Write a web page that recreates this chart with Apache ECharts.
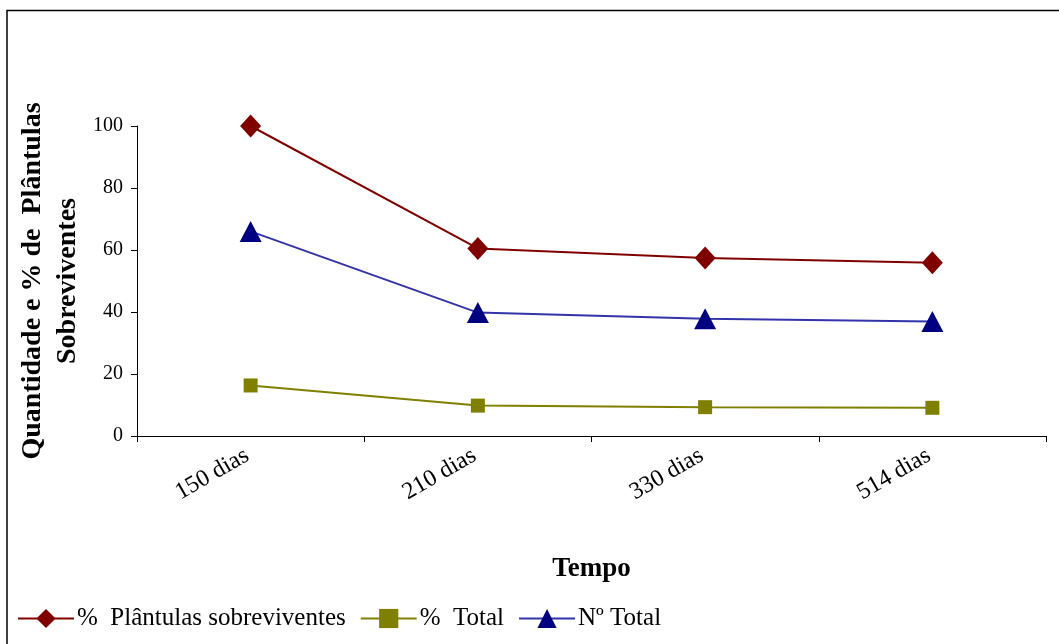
<!DOCTYPE html>
<html><head><meta charset="utf-8">
<script src="https://cdn.jsdelivr.net/npm/echarts@6/dist/echarts.min.js"></script>
<style>html,body{margin:0;padding:0;background:#fff}#c{width:1059px;height:644px}</style>
</head><body><div id="c"></div>
<script>
const categories = ['150 dias', '210 dias', '330 dias', '514 dias'];
const pctPlantulas = [100, 60.5, 57.4, 55.9];
const pctTotal = [16.3, 9.8, 9.3, 9.1];
const nTotal = [66, 39.8, 37.8, 36.9];
const yTicks = [0, 20, 40, 60, 80, 100];

const serif = '"Liberation Serif", "Times New Roman", serif';
const chart = echarts.init(document.getElementById('c'));
chart.setOption({
  animation: false,
  backgroundColor: '#fff',
  graphic: [{
    type: 'rect', shape: {x: 7, y: 10.5, width: 1100, height: 700},
    style: {fill: 'none', stroke: '#000', lineWidth: 1.5}, silent: true
  }],
  grid: {left: 137, right: 13, top: 126, bottom: 208, containLabel: false, outerBoundsMode: 'none'},
  legend: {
    left: 12, top: 601, itemGap: 14, itemWidth: 56, itemHeight: 24,
    textStyle: {fontFamily: serif, fontSize: 25, color: '#000', padding: [0, 0, 0, -2]},
    lineStyle: {width: 2},
    data: ['%  Plântulas sobreviventes', '%  Total', 'Nº Total']
  },
  xAxis: {
    type: 'category', data: categories, boundaryGap: true,
    name: 'Tempo', nameLocation: 'middle', nameGap: 120, nameMoveOverlap: false,
    nameTextStyle: {fontFamily: serif, fontSize: 27, fontWeight: 'bold', color: '#000'},
    axisLine: {lineStyle: {color: '#000', width: 1}},
    axisTick: {show: true, length: 6, lineStyle: {color: '#000'}},
    axisLabel: {rotate: 30, margin: 16, fontFamily: serif, fontSize: 24, color: '#000', padding: [0, 4, 0, 0]}
  },
  yAxis: {
    type: 'value', min: 0, max: 100, interval: 20,
    name: 'Quantidade e % de  Plântulas\nSobreviventes', nameLocation: 'middle', nameGap: 52, nameMoveOverlap: false,
    nameTextStyle: {fontFamily: serif, fontSize: 28, fontWeight: 'bold', color: '#000', lineHeight: 35},
    axisLine: {show: true, lineStyle: {color: '#000', width: 1}},
    axisTick: {show: true, length: 6, inside: false, lineStyle: {color: '#000'}},
    splitLine: {show: false},
    axisLabel: {margin: 14, fontFamily: serif, fontSize: 20, color: '#000',
      formatter: v => yTicks.includes(v) ? String(v) : ''}
  },
  series: [
    {name: '%  Plântulas sobreviventes', type: 'line', data: pctPlantulas,
     symbol: 'diamond', symbolSize: [21, 23], color: '#800000',
     lineStyle: {color: '#800000', width: 2}, itemStyle: {color: '#800000'}},
    {name: '%  Total', type: 'line', data: pctTotal,
     symbol: 'rect', symbolSize: 14, color: '#808000',
     lineStyle: {color: '#808000', width: 2}, itemStyle: {color: '#808000'}},
    {name: 'Nº Total', type: 'line', data: nTotal,
     symbol: 'triangle', symbolSize: [22, 21], color: '#000080',
     lineStyle: {color: '#3333aa', width: 2}, itemStyle: {color: '#000080'}}
  ]
});
</script></body></html>
